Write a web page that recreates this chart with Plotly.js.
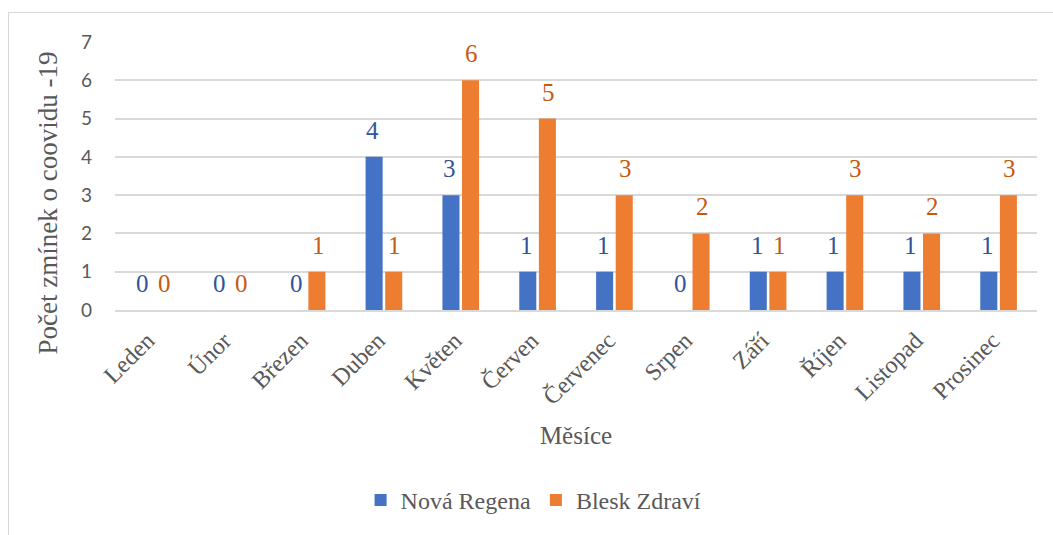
<!DOCTYPE html>
<html>
<head>
<meta charset="utf-8">
<script src="https://cdn.plot.ly/plotly-3.0.1.min.js"></script>
<style>
html,body{margin:0;padding:0;background:#fff;}
#frame{position:absolute;left:8px;top:12px;width:1100px;height:600px;border-top:1px solid #d9d9d9;border-left:1px solid #d9d9d9;}
#chart{position:absolute;left:0;top:0;width:1053px;height:535px;}
</style>
</head>
<body>
<div id="frame"></div>
<div id="chart"></div>
<script>
const months = ["Leden","Únor","Březen","Duben","Květen","Červen","Červenec","Srpen","Září","Říjen","Listopad","Prosinec"];
const novaRegena = [0,0,0,4,3,1,1,0,1,1,1,1];
const bleskZdravi = [0,0,1,1,6,5,3,2,1,3,2,3];
const seriesNames = ["Nová Regena","Blesk Zdraví"];
const barColors = ["#4472C4","#ED7D31"];
const labelColors = ["#2F5597","#C55A11"];
const yTicks = [0,1,2,3,4,5,6,7];
const yTitle = "Počet zmínek o coovidu -19";
const xTitle = "Měsíce";

const serif = "Liberation Serif";
const sans = "Lato";

const traces = [novaRegena, bleskZdravi].map((vals, i) => ({
  type: "bar",
  name: seriesNames[i],
  x: months,
  y: vals,
  marker: {color: barColors[i]},
  hoverinfo: "none"
}));

const annotations = [];
[novaRegena, bleskZdravi].forEach((vals, i) => {
  vals.forEach((v, j) => {
    annotations.push({
      x: months[j], y: v, xref: "x", yref: "y",
      text: String(v), showarrow: false,
      xshift: i === 0 ? -11 : 11, yshift: 11,
      yanchor: "bottom",
      font: {family: serif, size: 25, color: labelColors[i]}
    });
  });
});
annotations.push({
  xref: "paper", yref: "paper", x: -0.073, y: 0.40,
  xanchor: "center", yanchor: "middle", textangle: -90,
  text: yTitle, showarrow: false,
  font: {family: serif, size: 27, color: "#595959"}
});

const layout = {
  width: 1053, height: 535,
  paper_bgcolor: "rgba(0,0,0,0)",
  plot_bgcolor: "rgba(0,0,0,0)",
  margin: {l: 115, r: 16, t: 42, b: 221},
  barmode: "group",
  bargap: 0.49,
  bargroupgap: 0.13,
  showlegend: true,
  legend: {
    orientation: "h", x: 0.454, xanchor: "center", y: -0.71, yanchor: "middle",
    font: {family: serif, size: 24, color: "#595959"},
    itemwidth: 30, tracegroupgap: 0
  },
  xaxis: {
    type: "category",
    tickangle: -45,
    tickfont: {family: serif, size: 24, color: "#595959"},
    showline: true, linecolor: "#d9d9d9", linewidth: 2,
    ticks: "", showgrid: false,
    ticklabelshift: -6,
    ticklabelstandoff: 5,
    automargin: false,
    title: {text: xTitle, font: {family: serif, size: 25, color: "#595959"}, standoff: 18}
  },
  yaxis: {
    range: [0, 7],
    tickvals: yTicks,
    ticktext: yTicks.map(String),
    tickfont: {family: sans, size: 19, color: "#595959"},
    gridcolor: "#d9d9d9", gridwidth: 2,
    zeroline: false, showline: false, ticks: "",
    ticklabelstandoff: 22,
    automargin: false
  },
  annotations: annotations
};

Plotly.newPlot("chart", traces, layout, {displayModeBar: false, staticPlot: true});
</script>
</body>
</html>
